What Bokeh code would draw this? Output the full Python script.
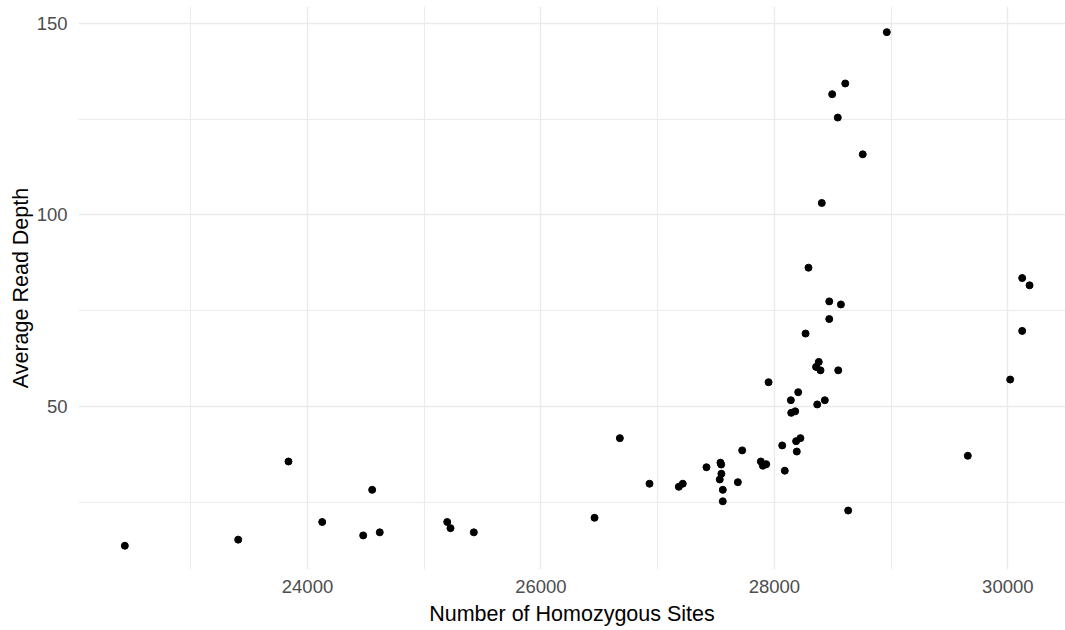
from bokeh.plotting import figure
from bokeh.models import ColumnDataSource, FixedTicker, Range1d
from bokeh.embed import file_html
from bokeh.resources import INLINE

# Homozygous site counts and average read depth per sample
homozygous_sites = [
    22435, 23406, 23837, 24126, 24477, 24554, 24619, 25197, 25225, 25425,
    26459, 26676, 26930, 27181, 27215, 27418, 27538, 27544, 27546, 27532,
    27558, 27558, 27687, 27724, 27884, 27901, 27930, 27950, 28067, 28089,
    28141, 28144, 28178, 28186, 28192, 28204, 28223, 28267, 28292, 28357,
    28367, 28380, 28395, 28406, 28432, 28470, 28470, 28495, 28543, 28547,
    28570, 28607, 28632, 28757, 28963, 29657, 30020, 30123, 30123, 30186,
]
read_depth = [
    13.6, 15.2, 35.6, 19.8, 16.3, 28.2, 17.1, 19.8, 18.2, 17.1,
    20.9, 41.7, 29.8, 29.0, 29.8, 34.1, 35.3, 34.8, 32.4, 30.9,
    28.2, 25.2, 30.2, 38.5, 35.6, 34.5, 34.9, 56.3, 39.8, 33.2,
    51.6, 48.3, 48.7, 40.9, 38.2, 53.7, 41.7, 69.0, 86.2, 60.3,
    50.5, 61.6, 59.4, 103.1, 51.6, 77.4, 72.8, 131.5, 125.4, 59.4,
    76.6, 134.3, 22.8, 115.8, 147.7, 37.1, 57.0, 83.5, 69.7, 81.6,
]

x_major_ticks = [24000, 26000, 28000, 30000]
x_minor_ticks = [23000, 25000, 27000, 29000]
y_major_ticks = [50, 100, 150]
y_minor_ticks = [25, 75, 125]

FONT = "Liberation Sans"
GRID = "#EBEBEB"

src = ColumnDataSource(dict(x=homozygous_sites, y=read_depth))

p = figure(
    width=1065, height=630,
    output_backend="svg", toolbar_location=None,
    x_range=Range1d(22038, 30494), y_range=Range1d(7.4, 154.4),
    min_border_left=78, min_border_right=0,
    min_border_top=6, min_border_bottom=61,
    background_fill_color="white", border_fill_color="white",
)
p.outline_line_color = None

p.scatter("x", "y", source=src, size=7, color="black")

# axes
for ax in (p.xaxis[0], p.yaxis[0]):
    ax.axis_line_color = None
    ax.major_tick_line_color = None
    ax.minor_tick_line_color = None
    ax.major_tick_out = 0
    ax.major_tick_in = 0
    ax.major_label_text_font = FONT
    ax.major_label_text_font_size = "18.5px"
    ax.major_label_text_color = "#4D4D4D"
    ax.axis_label_text_font = FONT
    ax.axis_label_text_font_size = "21.5px"
    ax.axis_label_text_font_style = "normal"
    ax.axis_label_text_color = "black"

p.xaxis.ticker = FixedTicker(ticks=x_major_ticks)
p.yaxis.ticker = FixedTicker(ticks=y_major_ticks)
p.xaxis.axis_label = "Number of Homozygous Sites"
p.yaxis.axis_label = "Average Read Depth"
p.xaxis.major_label_standoff = 10
p.yaxis.major_label_standoff = 11
p.xaxis.axis_label_standoff = 6
p.yaxis.axis_label_standoff = 1

# grid lines: majors plus the in-between minors
p.xgrid.ticker = FixedTicker(ticks=x_major_ticks, minor_ticks=x_minor_ticks)
p.ygrid.ticker = FixedTicker(ticks=y_major_ticks, minor_ticks=y_minor_ticks)
for g in (p.xgrid[0], p.ygrid[0]):
    g.grid_line_color = GRID
    g.grid_line_width = 1.4
    g.minor_grid_line_color = GRID
    g.minor_grid_line_width = 1.1

open("out.html", "w").write(file_html(p, INLINE))
